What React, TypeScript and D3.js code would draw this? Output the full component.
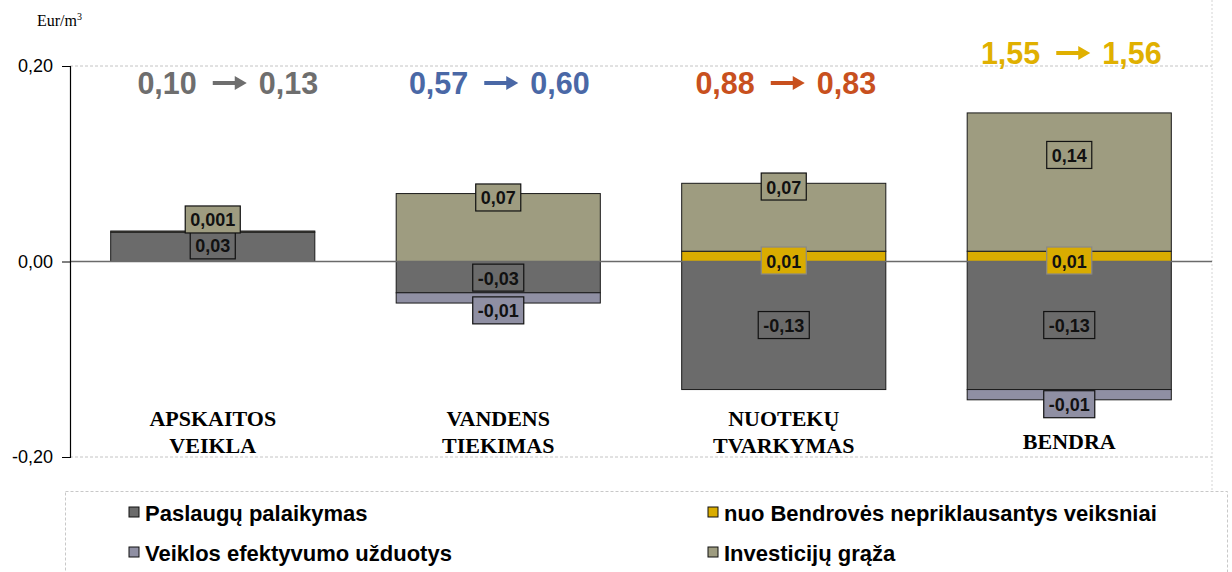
import React, { useEffect, useRef } from "react";
import * as d3 from "d3";

// ---------- data ----------
const categories = ["APSKAITOS VEIKLA", "VANDENS TIEKIMAS", "NUOTEKŲ TVARKYMAS", "BENDRA"];
const categoryLines = [["APSKAITOS", "VEIKLA"], ["VANDENS", "TIEKIMAS"], ["NUOTEKŲ", "TVARKYMAS"], ["BENDRA"]];
const seriesNames = ["Paslaugų palaikymas", "Veiklos efektyvumo užduotys", "nuo Bendrovės nepriklausantys veiksniai", "Investicijų grąža"];
const paslaugu = [0.03, -0.032, -0.131, -0.131];
const veiklos = [0, -0.0105, 0, -0.0105];
const nuoBendroves = [0, 0, 0.0105, 0.0105];
const investiciju = [0.0012, 0.0695, 0.0695, 0.1415];
const paslauguLabels = ["0,03", "-0,03", "-0,13", "-0,13"];
const veiklosLabels = ["", "-0,01", "", "-0,01"];
const nuoLabels = ["", "", "0,01", "0,01"];
const investLabels = ["0,001", "0,07", "0,07", "0,14"];
const titleFrom = ["0,10", "0,57", "0,88", "1,55"];
const titleTo = ["0,13", "0,60", "0,83", "1,56"];
const yTicks = [0.2, 0, -0.2];
const yTickLabels = ["0,20", "0,00", "-0,20"];

// ---------- styles / layout ----------
const W = 1232, H = 572;
const colors = ["#6b6b6b", "#8f8fa3", "#d9ac00", "#9e9c80"];
const titleColors = ["#6e6e6e", "#4a68a6", "#c8501e", "#e0b000"];
const titleBaseline = [94, 94, 94, 64];
const titleShift = [15, 1, 2, 2];
// label anchor (value units) per series per category
const labelAnchor = [
  [0.0165, -0.0165, -0.065, -0.065],
  [0, -0.05, 0, -0.146],
  [0, 0, 0.001, 0.001],
  [0.043, 0.0655, 0.0767, 0.109],
];

export default function App() {
  const ref = useRef<SVGSVGElement>(null);
  useEffect(() => {
    const svg = d3.select(ref.current);
    svg.selectAll("*").remove();
    const left = 70, right = 1212, top = 66, bottom = 457;
    const y = d3.scaleLinear().domain([-0.2, 0.2]).range([bottom, top]);
    const x = d3.scaleBand().domain(categories).range([left, right]).paddingInner(0.285).paddingOuter(0.1425);

    const rows = categories.map((c, i) => ({
      cat: c,
      [seriesNames[0]]: paslaugu[i],
      [seriesNames[1]]: veiklos[i],
      [seriesNames[2]]: nuoBendroves[i],
      [seriesNames[3]]: investiciju[i],
    }));
    const stack = d3.stack<any>().keys(seriesNames).offset(d3.stackOffsetDiverging);
    const series = stack(rows);

    // gridlines
    svg.append("g").selectAll("line").data([0.2, -0.2]).join("line")
      .attr("x1", left).attr("x2", right).attr("y1", (d) => y(d)).attr("y2", (d) => y(d))
      .attr("stroke", "#c4c4c4").attr("stroke-dasharray", "3,2").attr("stroke-width", 1);
    // right border
    svg.append("line").attr("x1", right).attr("x2", right).attr("y1", 0).attr("y2", 490)
      .attr("stroke", "#d4d4d4").attr("stroke-dasharray", "2,2");

    // bars
    series.forEach((s, si) => {
      svg.append("g").selectAll("rect").data(s).join("rect")
        .filter((d) => Math.abs(d[1] - d[0]) > 0)
        .attr("x", (d) => x(d.data.cat)!)
        .attr("width", x.bandwidth())
        .attr("y", (d) => y(d[1]))
        .attr("height", (d) => Math.max(1, y(d[0]) - y(d[1])))
        .attr("fill", colors[si])
        .attr("stroke", "#1a1a1a").attr("stroke-width", 1);
    });

    // zero line
    svg.append("line").attr("x1", left).attr("x2", right).attr("y1", y(0)).attr("y2", y(0))
      .attr("stroke", "#6a6a6a").attr("stroke-width", 1.5);

    // y axis
    const axis = svg.append("g").attr("transform", `translate(${left},0)`)
      .call(d3.axisLeft(y).tickValues(yTicks).tickSize(8).tickFormat((d, i) => yTickLabels[i]));
    axis.select(".domain").attr("stroke", "#000").attr("stroke-width", 1.2);
    axis.selectAll(".tick line").attr("stroke", "#000");
    axis.selectAll(".tick text").attr("font-family", "Liberation Sans, Arial, sans-serif").attr("font-size", 18)
      .attr("fill", "#000").attr("x", -17);

    // axis unit
    const unit = svg.append("text").attr("x", 37).attr("y", 26)
      .attr("font-family", "Liberation Serif, Times New Roman, serif").attr("font-size", 16).attr("fill", "#000");
    unit.append("tspan").text("Eur/m");
    unit.append("tspan").attr("font-size", 10).attr("dy", -6).text("3");

    // data labels
    const labelSets = [paslauguLabels, veiklosLabels, nuoLabels, investLabels];
    labelSets.forEach((labels, si) => {
      labels.forEach((txt, ci) => {
        if (!txt) return;
        const cx = x(categories[ci])! + x.bandwidth() / 2;
        const cy = y(labelAnchor[si][ci]);
        const g = svg.append("g");
        const t = g.append("text").attr("x", cx).attr("y", cy + 1).attr("text-anchor", "middle")
          .attr("dominant-baseline", "central")
          .attr("font-family", "Liberation Sans, Arial, sans-serif").attr("font-weight", "bold")
          .attr("font-size", 18).attr("fill", "#111").text(txt);
        const bw = (t.node() as SVGTextElement).getComputedTextLength() + 10;
        g.insert("rect", "text").attr("x", cx - bw / 2).attr("y", cy - 13.5).attr("width", bw).attr("height", 27)
          .attr("fill", colors[si]).attr("stroke", si === 2 ? "#888" : "#111").attr("stroke-width", 1.2);
      });
    });

    // titles
    categories.forEach((c, i) => {
      const cx = x(c)! + x.bandwidth() / 2 + titleShift[i];
      const by = titleBaseline[i];
      const g = svg.append("g").attr("fill", titleColors[i]);
      const mk = (s: string) => g.append("text").attr("y", by)
        .attr("font-family", "Liberation Sans, Arial, sans-serif").attr("font-weight", "bold")
        .attr("font-size", 30.5).text(s);
      const t1 = mk(titleFrom[i]);
      const t2 = mk(titleTo[i]);
      const w1 = (t1.node() as SVGTextElement).getComputedTextLength();
      const w2 = (t2.node() as SVGTextElement).getComputedTextLength();
      const gap1 = 16, arrowW = 34, gap2 = 12;
      const total = w1 + gap1 + arrowW + gap2 + w2;
      const x0 = cx - total / 2;
      t1.attr("x", x0);
      const ax = x0 + w1 + gap1;
      const ay = by - 11;
      g.append("line").attr("x1", ax).attr("x2", ax + arrowW - 10).attr("y1", ay).attr("y2", ay)
        .attr("stroke", titleColors[i]).attr("stroke-width", 4);
      g.append("path").attr("d", `M${ax + arrowW - 12},${ay - 7} L${ax + arrowW},${ay} L${ax + arrowW - 12},${ay + 7} Z`)
        .attr("fill", titleColors[i]);
      t2.attr("x", ax + arrowW + gap2);
    });

    // category labels
    categories.forEach((c, i) => {
      const cx = x(c)! + x.bandwidth() / 2;
      const lines = categoryLines[i];
      const base = lines.length === 1 ? 449 : 426;
      lines.forEach((ln, li) => {
        svg.append("text").attr("x", cx).attr("y", base + li * 27).attr("text-anchor", "middle")
          .attr("font-family", "Liberation Serif, Times New Roman, serif").attr("font-weight", "bold")
          .attr("font-size", 22).attr("fill", "#000").text(ln);
      });
    });

    // legend
    svg.append("rect").attr("x", 65.5).attr("y", 491.5).attr("width", 1162).attr("height", 120)
      .attr("fill", "none").attr("stroke", "#c8c8c8").attr("stroke-dasharray", "3,2");
    const legendPos = [[129, 512], [129, 552], [708, 512], [708, 552]];
    seriesNames.forEach((n, i) => {
      const [lx, ly] = legendPos[i];
      svg.append("rect").attr("x", lx).attr("y", ly - 5).attr("width", 10).attr("height", 10)
        .attr("fill", colors[i]).attr("stroke", "#111").attr("stroke-width", 1);
      svg.append("text").attr("x", lx + 16).attr("y", ly + 1).attr("dominant-baseline", "central")
        .attr("font-family", "Liberation Sans, Arial, sans-serif").attr("font-weight", "bold")
        .attr("font-size", 22).attr("fill", "#000").text(n);
    });
  }, []);
  return (
    <svg ref={ref} width={W} height={H} style={{ position: "absolute", left: 0, top: 0, background: "#fff" }} />
  );
}
